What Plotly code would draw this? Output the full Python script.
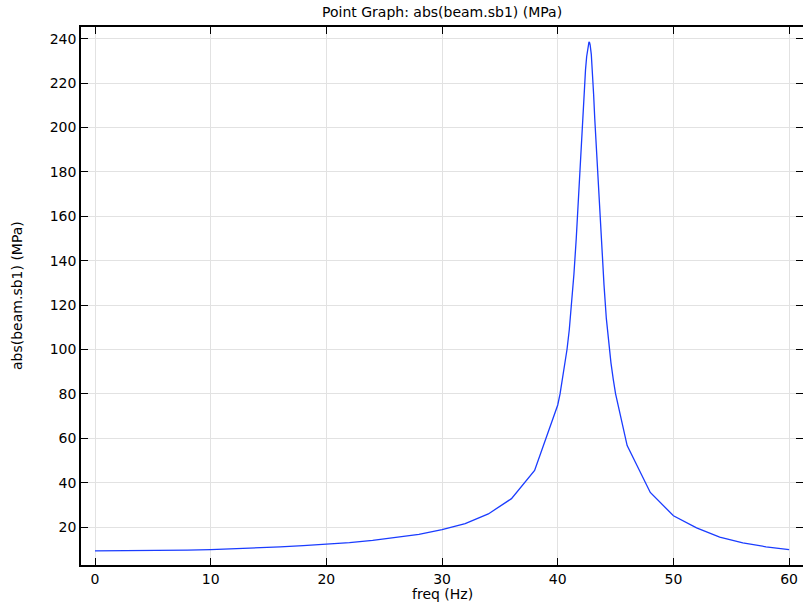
import plotly.graph_objects as go

freq = [0, 2, 4, 6, 8, 10, 12, 14, 16, 18, 20, 22, 24, 26, 28, 30, 32, 34, 36, 38,
        40.0, 40.2, 40.4, 40.6, 40.8, 41.0, 41.2, 41.4, 41.6, 41.8, 42.0, 42.1, 42.2, 42.3, 42.4,
        42.5, 42.6, 42.65, 42.7, 42.75, 42.8, 42.9, 43.0, 43.1, 43.2, 43.3, 43.4, 43.6, 43.8,
        44.0, 44.2, 44.4, 44.6, 44.8, 45.0, 46, 48, 50, 52, 54, 56, 58, 60]
stress = [9.3, 9.3, 9.35, 9.4, 9.6, 9.85, 10.15, 10.55, 11.05, 11.6, 12.2, 13.0, 14.0, 15.2, 16.7,
          18.8, 21.5, 25.9, 32.8, 45.5,
          75, 80, 86, 93, 100, 109, 121, 134, 150, 170, 190, 200.5, 211, 219, 226,
          232, 236.3, 237.9, 238.6, 238.3, 237.3, 233, 226, 215, 204, 194, 184, 165, 146,
          129, 114, 103, 94, 86.5, 80, 56.7, 35.6, 25.1, 19.6, 15.5, 12.9, 11.1, 9.8]

title_text = "Point Graph: abs(beam.sb1) (MPa)"
x_label = "freq (Hz)"
y_label = "abs(beam.sb1) (MPa)"
x_ticks = [0, 10, 20, 30, 40, 50, 60]
y_ticks = [20, 40, 60, 80, 100, 120, 140, 160, 180, 200, 220, 240]

FONT = "DejaVu Sans, sans-serif"

fig = go.Figure()
fig.add_trace(go.Scatter(x=freq, y=stress, mode="lines",
                         line=dict(color="#1a3cff", width=1.3), showlegend=False))

axis_common = dict(showline=True, linecolor="black", linewidth=1.5, mirror="ticks",
                   ticks="inside", ticklen=7, tickwidth=1.3, tickcolor="black",
                   showgrid=True, gridcolor="#e2e2e2", gridwidth=1, zeroline=False,
                   tickfont=dict(family=FONT, size=14, color="black"))

fig.update_xaxes(range=[-1.21, 61.2], tickvals=x_ticks, **axis_common)
fig.update_yaxes(range=[2.9, 245.3], tickvals=y_ticks, **axis_common)

fig.update_layout(
    width=805, height=607,
    margin=dict(l=81, r=0, t=27, b=42),
    paper_bgcolor="white", plot_bgcolor="white",
    font=dict(family=FONT, size=14, color="black"),
    annotations=[
        dict(text=title_text, x=0.5, y=1, xref="paper", yref="paper", yshift=15,
             showarrow=False, xanchor="center", yanchor="middle",
             font=dict(family=FONT, size=14)),
        dict(text=x_label, x=0.5, y=0, xref="paper", yref="paper", yshift=-29,
             showarrow=False, xanchor="center", yanchor="middle",
             font=dict(family=FONT, size=14)),
        dict(text=y_label, x=0, y=0.5, xref="paper", yref="paper", xshift=-64,
             showarrow=False, xanchor="center", yanchor="middle", textangle=-90,
             font=dict(family=FONT, size=14)),
    ],
)

fig.write_html("out.html", config={"displayModeBar": False},
               post_script="document.body.style.margin='0px';document.body.style.overflow='hidden';")
